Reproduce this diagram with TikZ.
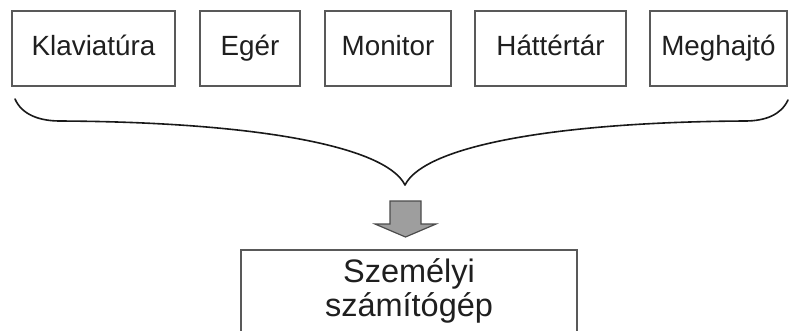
\documentclass[tikz,border=0pt]{standalone}
\usepackage{fontspec}
\setmainfont{Liberation Sans}
\begin{document}
\begin{tikzpicture}[x=1pt,y=-1pt,
  devbox/.style={draw=black!65,line width=1.2pt,rectangle,inner sep=0pt,
    minimum height=75pt,text height=19.5pt,text depth=5.5pt,
    font=\fontsize{27.8}{30}\selectfont,text=black!88},
  pcbox/.style={draw=black!65,line width=1.2pt,rectangle,inner sep=0pt,
    minimum width=336pt,minimum height=82pt,align=center,
    font=\fontsize{32.5}{34}\selectfont,text=black!88},
  bracestyle/.style={draw=black!90,line width=1.6pt,line cap=round,line join=round},
  blockarrow/.style={draw=black!70,fill=black!38,line width=1.2pt,line join=miter}
]
\clip (0,0) rectangle (789,330);
\fill[white] (0,0) rectangle (789,330);

\node[devbox,minimum width=163pt] (kl) at (93.5,48.5) {Klaviatúra};
\node[devbox,minimum width=100pt] (eg) at (250,48.5) {Egér};
\node[devbox,minimum width=126pt] (mo) at (388,48.5) {Monitor};
\node[devbox,minimum width=151pt] (ha) at (550.5,48.5) {Háttértár};
\node[devbox,minimum width=137pt] (me) at (718.5,48.5) {Meghajtó};

\node[pcbox] (pc) at (409,291) {Személyi\\számítógép};

\coordinate (bl) at (15,99);
\coordinate (br) at (788,100);
\coordinate (tip) at (405,185);

\draw[bracestyle] (bl) .. controls (22,115) and (40,121) .. (60,121)
  .. controls (250,122) and (385,145) .. (tip)
  .. controls (425,145) and (560,122) .. (745,121)
  .. controls (765,121) and (781,115) .. (br);

\draw[blockarrow] (390,201) -- (421,201) -- (421,224) -- (436,224) -- (405.5,237)
  -- (375,224) -- (390,224) -- cycle;
\end{tikzpicture}
\end{document}
